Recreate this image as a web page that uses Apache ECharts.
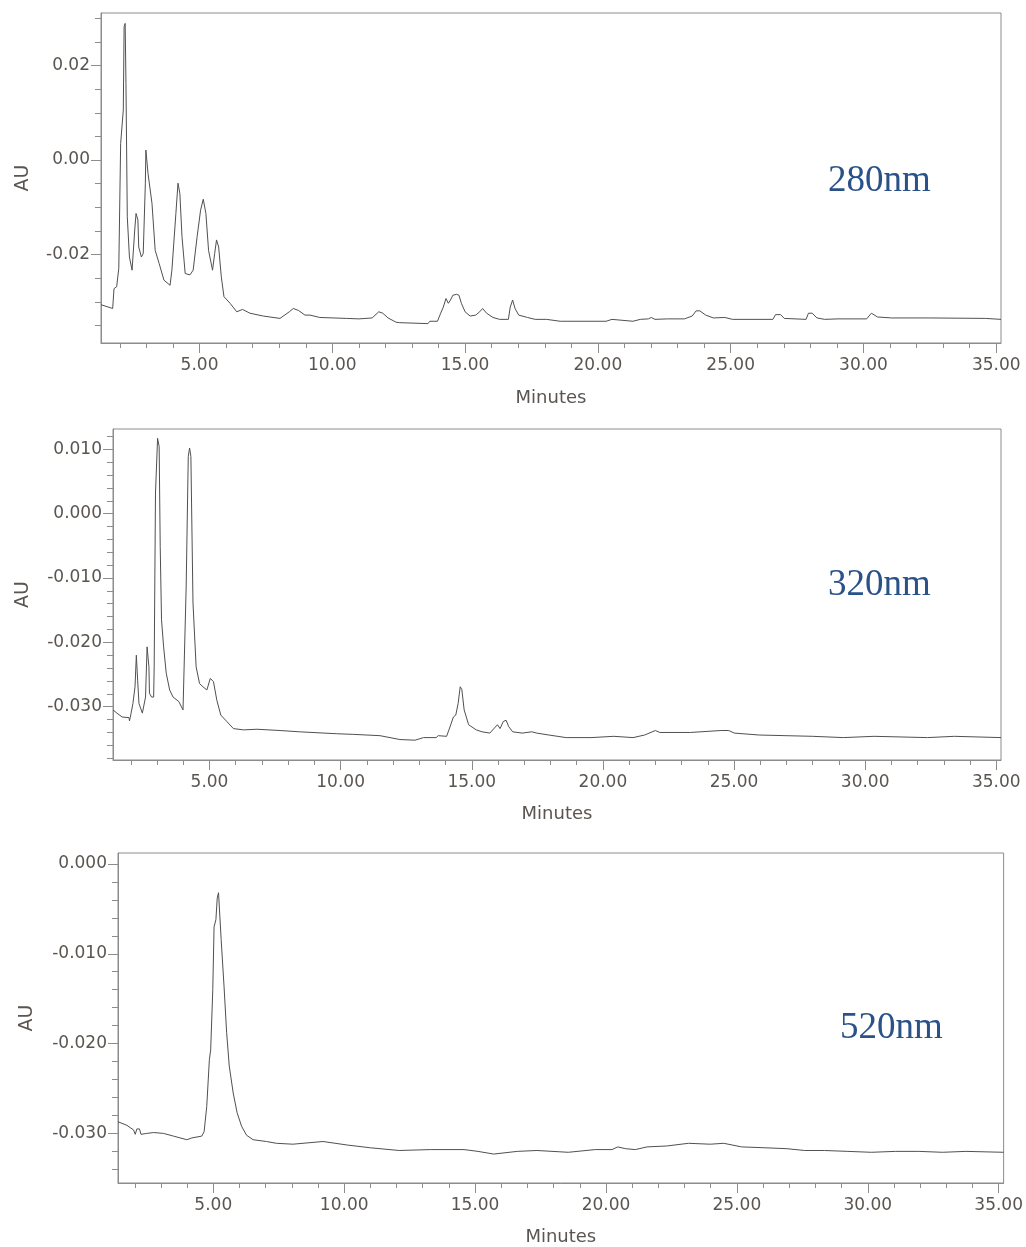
<!DOCTYPE html>
<html><head><meta charset="utf-8">
<script src="https://cdn.jsdelivr.net/npm/echarts@6/dist/echarts.min.js"></script>
<style>html,body{margin:0;padding:0;background:#fff}#c{width:1026px;height:1247px}</style>
</head><body><div id="c"></div>
<script>
// ---- 280 nm trace (minutes, AU) ----
const t280 = [1.29,1.35,1.73,1.78,1.88,1.96,2.03,2.08,2.13,2.16,2.20,2.23,2.28,2.36,2.46,2.51,2.56,2.61,2.68,2.71,2.81,2.88,2.96,2.98,3.03,3.06,3.13,3.21,3.33,3.48,3.66,3.89,3.96,4.11,4.19,4.26,4.34,4.46,4.64,4.76,4.91,5.04,5.14,5.24,5.34,5.49,5.57,5.64,5.72,5.82,5.92,6.15,6.40,6.62,6.90,7.40,8.03,8.38,8.53,8.72,8.97,9.16,9.53,10.54,11.00,11.50,11.75,11.90,12.10,12.40,12.52,13.60,13.67,13.96,14.08,14.18,14.28,14.37,14.45,14.54,14.68,14.77,14.86,15.00,15.19,15.40,15.55,15.66,15.81,16.05,16.30,16.63,16.70,16.79,16.88,17.02,17.35,17.64,18.07,18.58,20.31,20.38,20.53,20.60,21.32,21.60,21.90,22.01,22.15,22.62,23.26,23.55,23.70,23.84,24.06,24.35,24.78,25.07,26.59,26.69,26.88,27.02,27.84,27.93,28.07,28.25,28.54,29.04,30.12,30.30,30.53,31.06,32.50,34.60,35.18];
const v280 = [-0.0306,-0.0307,-0.0314,-0.0272,-0.0268,-0.0229,0.0035,0.0035,0.0106,0.0282,0.0289,0.0162,-0.0120,-0.0205,-0.0233,-0.0233,-0.0148,-0.0113,-0.0127,-0.0184,-0.0205,-0.0198,-0.0049,0.0021,0.0021,-0.0028,-0.0028,-0.0092,-0.0191,-0.0219,-0.0254,-0.0265,-0.0233,-0.0113,-0.0049,-0.0071,-0.0162,-0.0240,-0.0243,-0.0233,-0.0162,-0.0106,-0.0083,-0.0113,-0.0191,-0.0233,-0.0198,-0.0169,-0.0184,-0.0247,-0.0289,-0.0303,-0.0321,-0.0316,-0.0324,-0.0330,-0.0335,-0.0321,-0.0314,-0.0318,-0.0328,-0.0328,-0.0333,-0.0335,-0.0336,-0.0334,-0.0321,-0.0324,-0.0334,-0.0343,-0.0344,-0.0346,-0.0341,-0.0341,-0.0324,-0.0311,-0.0293,-0.0303,-0.0296,-0.0286,-0.0284,-0.0286,-0.0303,-0.0321,-0.0330,-0.0328,-0.0321,-0.0314,-0.0324,-0.0333,-0.0337,-0.0337,-0.0311,-0.0296,-0.0314,-0.0328,-0.0333,-0.0337,-0.0337,-0.0341,-0.0341,-0.0337,-0.0337,-0.0341,-0.0341,-0.0337,-0.0336,-0.0333,-0.0337,-0.0336,-0.0336,-0.0330,-0.0319,-0.0319,-0.0328,-0.0334,-0.0333,-0.0337,-0.0337,-0.0327,-0.0327,-0.0335,-0.0337,-0.0324,-0.0324,-0.0334,-0.0337,-0.0336,-0.0336,-0.0324,-0.0332,-0.0334,-0.0334,-0.0335,-0.0337];

// ---- 320 nm trace ----
const t320 = [1.32,1.37,1.47,1.67,1.93,1.95,2.01,2.08,2.16,2.21,2.26,2.31,2.44,2.51,2.56,2.62,2.64,2.69,2.71,2.79,2.87,2.89,2.94,3.02,3.08,3.12,3.17,3.25,3.35,3.48,3.61,3.83,3.99,4.06,4.11,4.19,4.24,4.29,4.37,4.49,4.62,4.75,4.90,5.03,5.15,5.28,5.43,5.66,5.91,6.30,6.81,7.69,8.43,9.85,10.50,11.50,12.26,12.84,13.16,13.64,13.72,14.04,14.13,14.30,14.39,14.48,14.56,14.62,14.71,14.88,15.17,15.39,15.69,15.98,16.08,16.20,16.31,16.41,16.56,16.92,17.29,17.36,17.48,17.94,18.60,19.55,20.42,21.15,21.59,22.00,22.17,23.34,24.50,24.80,25.01,25.96,26.98,28.00,29.17,30.34,32.38,33.40,35.18];
const v320 = [-0.0305,-0.0306,-0.0310,-0.0316,-0.0317,-0.0322,-0.0310,-0.0295,-0.0269,-0.0220,-0.0259,-0.0295,-0.0310,-0.0310,-0.0285,-0.0207,-0.0207,-0.0238,-0.0279,-0.0285,-0.0285,-0.0238,0.0032,0.0117,0.0104,-0.0051,-0.0165,-0.0207,-0.0248,-0.0274,-0.0285,-0.0292,-0.0305,-0.0303,-0.0114,0.0089,0.0102,0.0089,-0.0139,-0.0238,-0.0264,-0.0269,-0.0274,-0.0256,-0.0261,-0.0290,-0.0313,-0.0323,-0.0334,-0.0336,-0.0335,-0.0337,-0.0339,-0.0342,-0.0343,-0.0345,-0.0351,-0.0352,-0.0348,-0.0348,-0.0345,-0.0346,-0.0336,-0.0316,-0.0313,-0.0295,-0.0269,-0.0273,-0.0305,-0.0328,-0.0336,-0.0339,-0.0341,-0.0328,-0.0334,-0.0323,-0.0321,-0.0331,-0.0339,-0.0341,-0.0339,-0.0336,-0.0341,-0.0344,-0.0348,-0.0348,-0.0346,-0.0348,-0.0344,-0.0337,-0.0340,-0.0340,-0.0337,-0.0337,-0.0341,-0.0344,-0.0345,-0.0346,-0.0348,-0.0346,-0.0348,-0.0346,-0.0348];

// ---- 520 nm trace ----
const t520 = [1.36,1.70,1.95,2.02,2.08,2.18,2.24,2.46,2.72,3.10,3.48,3.99,4.18,4.56,4.65,4.75,4.85,4.90,4.98,5.03,5.10,5.15,5.20,5.25,5.30,5.41,5.51,5.61,5.76,5.91,6.08,6.27,6.52,7.03,7.41,8.04,9.19,10.14,11.00,12.10,13.30,14.58,15.11,15.71,16.61,17.36,18.56,19.59,20.23,20.45,20.75,21.12,21.57,22.32,23.15,23.98,24.50,25.18,26.08,26.91,27.59,28.34,29.24,30.14,31.05,31.95,32.85,33.75,35.19];
const v520 = [-0.0287,-0.0291,-0.0296,-0.0301,-0.0295,-0.0295,-0.0301,-0.0300,-0.0299,-0.0300,-0.0303,-0.0307,-0.0305,-0.0303,-0.0298,-0.0270,-0.0218,-0.0207,-0.0140,-0.0070,-0.0062,-0.0038,-0.0032,-0.0058,-0.0084,-0.0136,-0.0188,-0.0225,-0.0255,-0.0277,-0.0292,-0.0302,-0.0307,-0.0309,-0.0311,-0.0312,-0.0309,-0.0313,-0.0316,-0.0319,-0.0318,-0.0318,-0.0320,-0.0323,-0.0320,-0.0319,-0.0321,-0.0318,-0.0318,-0.0315,-0.0317,-0.0318,-0.0315,-0.0314,-0.0311,-0.0312,-0.0311,-0.0315,-0.0316,-0.0317,-0.0319,-0.0319,-0.0320,-0.0321,-0.0320,-0.0320,-0.0321,-0.0320,-0.0321];

// ---- tick labels ----
const xTickValues = [5, 10, 15, 20, 25, 30, 35];
const yTicks280 = [-0.02, 0, 0.02];
const yTicks320 = [-0.03, -0.02, -0.01, 0, 0.01];
const yTicks520 = [-0.03, -0.02, -0.01, 0];
const wavelengthLabels = ['280nm', '320nm', '520nm'];

const AXIS = '#8c8c8c', TXT = '#5a5550';
const panels = [
  {t: t280, v: v280, ticks: yTicks280, step: 0.02, minor: 4, dec: 2,
   grid: {left: 101, top: 13, width: 900, height: 330}, x: [1.29, 35.18], y: [-0.0387, 0.0311],
   gapY: 68, gapX: 46, lab: {left: 828, top: 163}},
  {t: t320, v: v320, ticks: yTicks320, step: 0.01, minor: 5, dec: 3,
   grid: {left: 113, top: 429, width: 888, height: 331}, x: [1.32, 35.18], y: [-0.03828, 0.01315],
   gapY: 80, gapX: 45, lab: {left: 828, top: 567}},
  {t: t520, v: v520, ticks: yTicks520, step: 0.01, minor: 5, dec: 3,
   grid: {left: 118, top: 853, width: 888, height: 330}, x: [1.36, 35.19], y: [-0.03552, 0.00122],
   gapY: 81, gapX: 45, lab: {left: 840, top: 1010}}
];

const option = {
  animation: false,
  backgroundColor: '#fff',
  title: panels.map((p, i) => ({
    text: wavelengthLabels[i], left: p.lab.left, top: p.lab.top, padding: 0,
    textStyle: {fontFamily: 'Liberation Serif', fontSize: 37, fontWeight: 'normal', color: '#2a5289'}
  })),
  grid: panels.map(p => Object.assign({show: true, borderColor: AXIS, borderWidth: 1, backgroundColor: 'transparent'}, p.grid)),
  xAxis: panels.map((p, i) => ({
    type: 'value', gridIndex: i, min: p.x[0], max: p.x[1], minInterval: 5, maxInterval: 5,
    axisLine: {show: true, onZero: false, lineStyle: {color: AXIS, width: 1}},
    axisTick: {show: true, length: 10, customValues: xTickValues, lineStyle: {color: AXIS}},
    minorTick: {show: true, splitNumber: 5, length: 5, lineStyle: {color: AXIS}},
    splitLine: {show: false}, minorSplitLine: {show: false},
    axisLabel: {customValues: xTickValues, formatter: v => v.toFixed(2), margin: 14,
      fontFamily: 'DejaVu Sans', fontSize: 17, color: TXT},
    name: 'Minutes', nameLocation: 'middle', nameGap: p.gapX,
    nameTextStyle: {fontFamily: 'DejaVu Sans', fontSize: 18, color: TXT}
  })),
  yAxis: panels.map((p, i) => ({
    type: 'value', gridIndex: i, min: p.y[0], max: p.y[1], minInterval: p.step, maxInterval: p.step,
    axisLine: {show: true, onZero: false, lineStyle: {color: AXIS, width: 1}},
    axisTick: {show: true, length: 10, customValues: p.ticks, lineStyle: {color: AXIS}},
    minorTick: {show: true, splitNumber: p.minor, length: 6, lineStyle: {color: AXIS}},
    splitLine: {show: false}, minorSplitLine: {show: false},
    axisLabel: {customValues: p.ticks, formatter: v => (Math.abs(v) < 1e-9 ? 0 : v).toFixed(p.dec), margin: 11,
      fontFamily: 'DejaVu Sans', fontSize: 17, color: TXT},
    name: 'AU', nameLocation: 'middle', nameGap: p.gapY,
    nameTextStyle: {fontFamily: 'DejaVu Sans', fontSize: 19, color: TXT}
  })),
  series: panels.map((p, i) => ({
    type: 'line', xAxisIndex: i, yAxisIndex: i, symbol: 'none', showSymbol: false,
    clip: true, lineStyle: {width: 1, color: '#505050'},
    data: p.t.map((t, k) => [t, p.v[k]])
  }))
};
const chart = echarts.init(document.getElementById('c'), null, {renderer: 'canvas'});
chart.setOption(option);
</script></body></html>
